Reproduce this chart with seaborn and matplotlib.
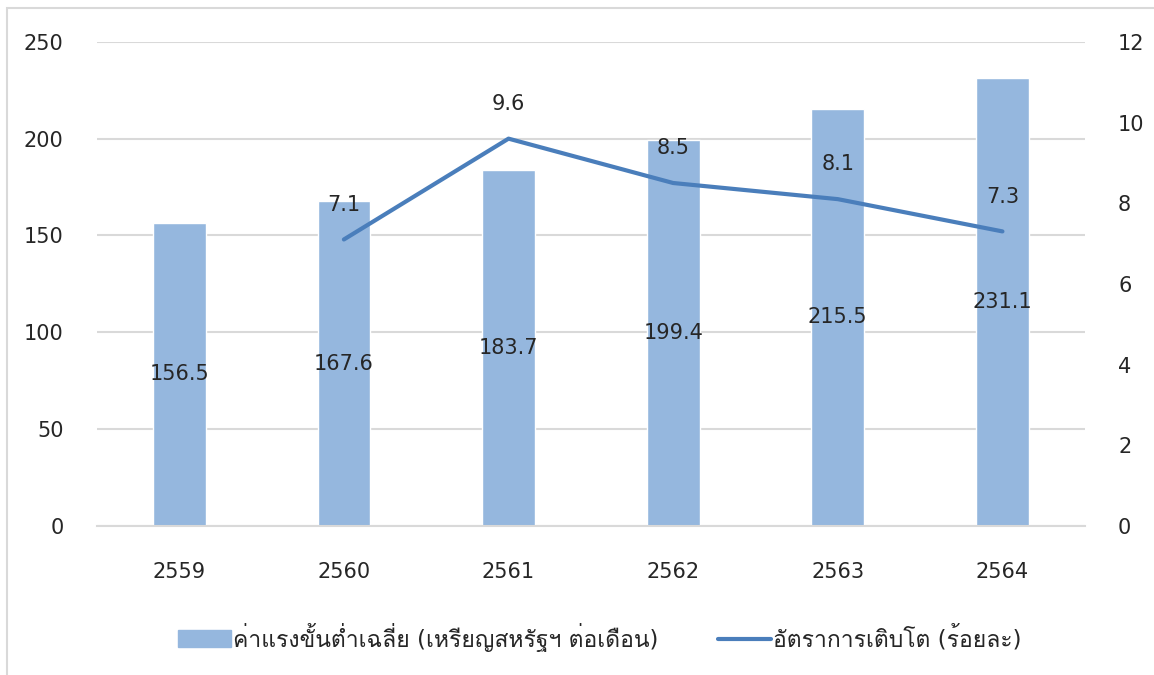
import matplotlib
matplotlib.use("Agg")
import matplotlib.pyplot as plt
from matplotlib import font_manager
from matplotlib.ft2font import FT2Font
from matplotlib.patches import Rectangle
import numpy as np
import seaborn as sns

years = ["2559", "2560", "2561", "2562", "2563", "2564"]
min_wage = [156.5, 167.6, 183.7, 199.4, 215.5, 231.1]
growth = [np.nan, 7.1, 9.6, 8.5, 8.1, 7.3]
bar_name = "ค่าแรงขั้นต่ำเฉลี่ย (เหรียญสหรัฐฯ ต่อเดือน)"
line_name = "อัตราการเติบโต (ร้อยละ)"


def thai_families():
    # look for any installed family that has Thai glyphs
    found = []
    for f in font_manager.fontManager.ttflist:
        try:
            cmap = FT2Font(f.fname).get_charmap()
        except Exception:
            continue
        if 0x0E01 in cmap and f.name not in found:
            found.append(f.name)
    return found


sns.set_theme(style="white")
plt.rcParams["font.family"] = ["DejaVu Sans"] + thai_families()

bar_color = "#95B7DE"
line_color = "#4A7EBB"
text_color = "#262626"

fig = plt.figure(figsize=(11.54, 6.75), dpi=100)
ax = fig.add_axes([0.084, 0.221, 0.856, 0.717])

sns.barplot(x=years, y=min_wage, color=bar_color, saturation=1, width=0.32, ax=ax)
ax.set_ylim(0, 250)
ax.set_yticks(range(0, 251, 50))
ax.grid(axis="y", color="#D9D9D9", linewidth=1.5)
ax.set_axisbelow(True)
for s in ["top", "right", "left"]:
    ax.spines[s].set_visible(False)
ax.spines["bottom"].set_color("#D9D9D9")
ax.spines["bottom"].set_linewidth(1.5)
ax.tick_params(axis="y", length=0, pad=24, labelsize=15, labelcolor=text_color)
ax.tick_params(axis="x", length=0, pad=26, labelsize=15, labelcolor=text_color)
ax.set_xlabel("")
ax.set_ylabel("")
ax.bar_label(ax.containers[0], labels=[f"{v:.1f}" for v in min_wage],
             label_type="center", fontsize=15, color=text_color)

ax2 = ax.twinx()
sns.pointplot(x=years, y=growth, order=years, color=line_color, markers="",
              linewidth=3, errorbar=None, ax=ax2)
ax2.set_ylim(0, 12)
ax2.set_yticks(range(0, 13, 2))
for s in ax2.spines.values():
    s.set_visible(False)
ax2.tick_params(axis="y", length=0, pad=24, labelsize=15, labelcolor=text_color)
ax2.set_ylabel("")
for i, v in enumerate(growth):
    if not np.isnan(v):
        ax2.annotate(f"{v:.1f}", (i, v), xytext=(0, 25), textcoords="offset points",
                     ha="center", va="center", fontsize=15, color=text_color)

handles = [Rectangle((0, 0), 1, 1, color=bar_color),
           plt.Line2D([], [], color=line_color, linewidth=3)]
fig.legend(handles, [bar_name, line_name], loc="center", bbox_to_anchor=(0.52, 0.056),
           ncol=2, frameon=False, fontsize=16.5, columnspacing=2.6, handlelength=2.3,
           handleheight=0.75, handletextpad=0.1, labelcolor=text_color)

fig.add_artist(Rectangle((7 / 1154, -0.1), 1.2, 1 - 8 / 675 + 0.1, transform=fig.transFigure,
                         fill=False, edgecolor="#D9D9D9", linewidth=1.5))

fig.savefig("out.png", dpi=100)
